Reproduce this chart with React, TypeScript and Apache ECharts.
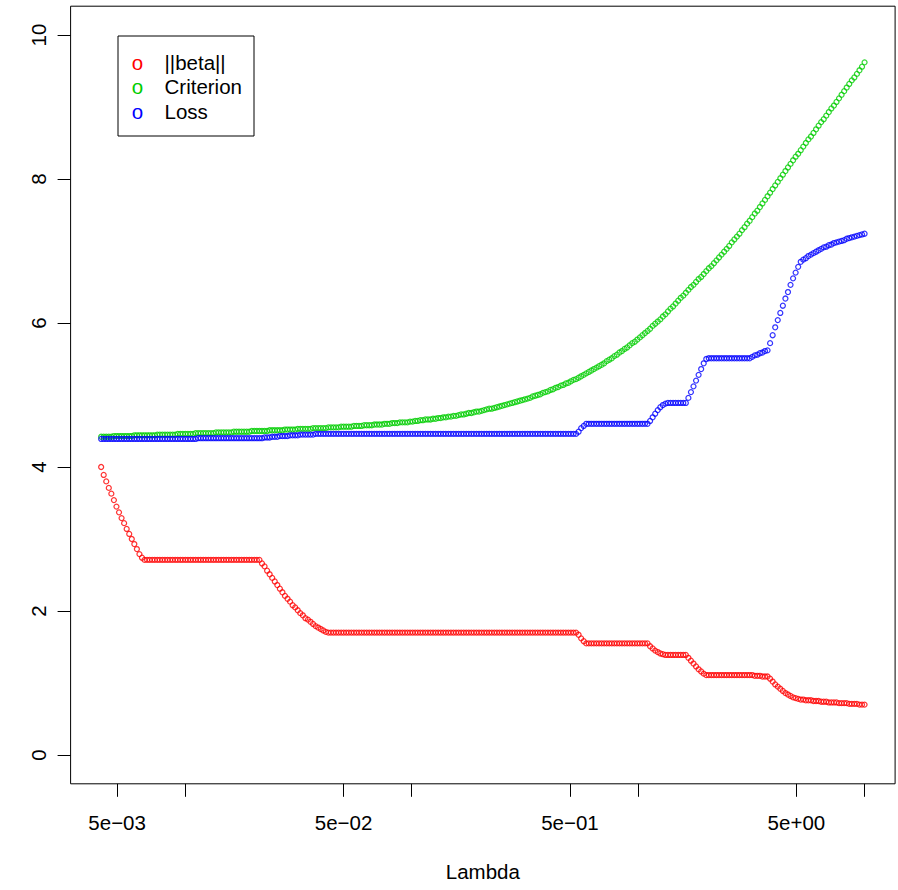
import React, { useEffect, useRef } from "react";
import * as echarts from "echarts";

// Regularisation path: 300 log-spaced lambda values
const N_POINTS = 300;
const LAMBDA_MIN = 0.00425;
const LAMBDA_MAX = 10;

// Axis ticks (R style: labels only where they do not collide)
const X_TICKS = [0.005, 0.01, 0.05, 0.1, 0.5, 1, 5, 10];
const X_LABELS = [0.005, 0.05, 0.5, 5];
const Y_TICKS = [0, 2, 4, 6, 8, 10];
const Y_LIM = [0, 10];

// ||beta|| along the path (increasing lambda)
const BETA_NORM = [
  4.00, 3.89, 3.80, 3.71, 3.63, 3.54, 3.45, 3.37, 3.29, 3.22,
  3.14, 3.07, 3.00, 2.93, 2.86, 2.79, 2.74, 2.71,
  2.71, 2.71, 2.71, 2.71, 2.71, 2.71, 2.71, 2.71, 2.71, 2.71, 2.71, 2.71, 2.71, 2.71, 2.71,
  2.71, 2.71, 2.71, 2.71, 2.71, 2.71, 2.71, 2.71, 2.71, 2.71, 2.71, 2.71, 2.71, 2.71, 2.71,
  2.71, 2.71, 2.71, 2.71, 2.71, 2.71, 2.71, 2.71, 2.71, 2.71, 2.71, 2.71, 2.71, 2.71, 2.71,
  2.66, 2.62, 2.56, 2.51, 2.46, 2.41, 2.36, 2.31, 2.26, 2.21, 2.17, 2.13, 2.08,
  2.05, 2.01, 1.97, 1.94, 1.90, 1.88, 1.85, 1.82, 1.79, 1.77, 1.75, 1.73, 1.71,
  1.70, 1.70, 1.70, 1.70, 1.70, 1.70, 1.70, 1.70, 1.70, 1.70, 1.70, 1.70, 1.70, 1.70, 1.70,
  1.70, 1.70, 1.70, 1.70, 1.70, 1.70, 1.70, 1.70, 1.70, 1.70, 1.70, 1.70, 1.70, 1.70, 1.70,
  1.70, 1.70, 1.70, 1.70, 1.70, 1.70, 1.70, 1.70, 1.70, 1.70, 1.70, 1.70, 1.70, 1.70, 1.70,
  1.70, 1.70, 1.70, 1.70, 1.70, 1.70, 1.70, 1.70, 1.70, 1.70, 1.70, 1.70, 1.70, 1.70, 1.70,
  1.70, 1.70, 1.70, 1.70, 1.70, 1.70, 1.70, 1.70, 1.70, 1.70, 1.70, 1.70, 1.70, 1.70, 1.70,
  1.70, 1.70, 1.70, 1.70, 1.70, 1.70, 1.70, 1.70, 1.70, 1.70, 1.70, 1.70, 1.70, 1.70, 1.70,
  1.70, 1.70, 1.70, 1.70, 1.70, 1.70, 1.70, 1.70,
  1.67, 1.62, 1.58,
  1.55, 1.55, 1.55, 1.55, 1.55, 1.55, 1.55, 1.55, 1.55, 1.55, 1.55, 1.55, 1.55, 1.55, 1.55,
  1.55, 1.55, 1.55, 1.55, 1.55, 1.55, 1.55, 1.55, 1.55, 1.55,
  1.51, 1.48, 1.45, 1.43, 1.41, 1.40, 1.39,
  1.39, 1.39, 1.39, 1.39, 1.39, 1.39, 1.39, 1.39,
  1.35, 1.31, 1.27, 1.23, 1.19, 1.16, 1.13, 1.11,
  1.11, 1.11, 1.11, 1.11, 1.11, 1.11, 1.11, 1.11, 1.11, 1.11, 1.11, 1.11, 1.11, 1.11, 1.11,
  1.11, 1.11,
  1.11, 1.10, 1.10, 1.10, 1.09, 1.09, 1.09,
  1.06, 1.02, 0.98, 0.95, 0.92, 0.89, 0.86, 0.84, 0.82, 0.80, 0.79, 0.78, 0.77,
  0.77, 0.76, 0.76, 0.76, 0.75, 0.75, 0.75, 0.74, 0.74, 0.74, 0.73, 0.73, 0.73,
  0.73, 0.72, 0.72, 0.72, 0.72, 0.71, 0.71, 0.71, 0.71, 0.70, 0.70, 0.70,
];

// Penalised criterion along the path
const CRITERION = [
  4.42, 4.42, 4.42, 4.42, 4.42, 4.43, 4.43, 4.43, 4.43, 4.43,
  4.43, 4.43, 4.43, 4.44, 4.44, 4.44, 4.44, 4.44, 4.44, 4.44,
  4.44, 4.44, 4.45, 4.45, 4.45, 4.45, 4.45, 4.45, 4.45, 4.45,
  4.46, 4.46, 4.46, 4.46, 4.46, 4.46, 4.46, 4.47, 4.47, 4.47,
  4.47, 4.47, 4.47, 4.47, 4.47, 4.48, 4.48, 4.48, 4.48, 4.48,
  4.48, 4.48, 4.49, 4.49, 4.49, 4.49, 4.49, 4.49, 4.49, 4.50,
  4.50, 4.50, 4.50, 4.50, 4.50, 4.50, 4.51, 4.51, 4.51, 4.51,
  4.51, 4.51, 4.52, 4.52, 4.52, 4.52, 4.52, 4.53, 4.53, 4.53,
  4.53, 4.53, 4.53, 4.54, 4.54, 4.54, 4.54, 4.54, 4.54, 4.55,
  4.55, 4.55, 4.55, 4.55, 4.56, 4.56, 4.56, 4.56, 4.56, 4.57,
  4.57, 4.57, 4.57, 4.58, 4.58, 4.58, 4.58, 4.59, 4.59, 4.59,
  4.59, 4.60, 4.60, 4.60, 4.61, 4.61, 4.61, 4.62, 4.62, 4.62,
  4.62, 4.63, 4.63, 4.64, 4.64, 4.65, 4.65, 4.66, 4.66, 4.66,
  4.67, 4.67, 4.68, 4.68, 4.69, 4.69, 4.70, 4.70, 4.71, 4.71,
  4.72, 4.73, 4.73, 4.74, 4.75, 4.75, 4.76, 4.77, 4.77, 4.78,
  4.79, 4.80, 4.81, 4.81, 4.82, 4.83, 4.84, 4.85, 4.86, 4.87,
  4.88, 4.89, 4.90, 4.91, 4.92, 4.93, 4.94, 4.95, 4.96, 4.98,
  4.99, 5.00, 5.01, 5.03, 5.04, 5.05, 5.07, 5.08, 5.10, 5.11,
  5.13, 5.14, 5.16, 5.17, 5.19, 5.21, 5.22, 5.24, 5.26, 5.28,
  5.30, 5.32, 5.34, 5.36, 5.38, 5.40, 5.42, 5.44, 5.47, 5.49,
  5.51, 5.54, 5.56, 5.59, 5.61, 5.64, 5.66, 5.69, 5.72, 5.74,
  5.77, 5.80, 5.83, 5.86, 5.89, 5.92, 5.96, 5.99, 6.02, 6.05,
  6.09, 6.12, 6.16, 6.20, 6.23, 6.27, 6.31, 6.35, 6.38, 6.42,
  6.46, 6.50, 6.53, 6.57, 6.61, 6.64, 6.68, 6.72, 6.76, 6.79,
  6.83, 6.87, 6.91, 6.95, 6.99, 7.03, 7.07, 7.12, 7.16, 7.20,
  7.24, 7.29, 7.33, 7.38, 7.42, 7.47, 7.52, 7.56, 7.61, 7.66,
  7.71, 7.76, 7.81, 7.86, 7.91, 7.96, 8.01, 8.06, 8.11, 8.16,
  8.21, 8.26, 8.31, 8.35, 8.40, 8.45, 8.50, 8.55, 8.59, 8.64,
  8.69, 8.74, 8.79, 8.83, 8.88, 8.93, 8.98, 9.02, 9.07, 9.12,
  9.17, 9.22, 9.27, 9.32, 9.37, 9.41, 9.46, 9.51, 9.56, 9.62,
];

// Loss along the path
const LOSS = [
  4.39, 4.39, 4.39, 4.39, 4.39, 4.39, 4.39, 4.39, 4.39, 4.39,
  4.39, 4.39, 4.39, 4.39, 4.39, 4.39, 4.39, 4.39,
  4.39, 4.39, 4.39, 4.39, 4.39, 4.39, 4.39, 4.39, 4.39, 4.39,
  4.39, 4.39, 4.39, 4.39, 4.39, 4.39, 4.39, 4.39, 4.39, 4.39,
  4.40, 4.40, 4.40, 4.40, 4.40, 4.40, 4.40, 4.40, 4.40, 4.40, 4.40, 4.40, 4.40,
  4.40, 4.40, 4.40, 4.40, 4.40, 4.40, 4.40, 4.40, 4.40, 4.40, 4.40, 4.40,
  4.40, 4.41, 4.41, 4.41, 4.42, 4.42, 4.42, 4.43, 4.43, 4.43, 4.43, 4.44, 4.44,
  4.44, 4.44, 4.45, 4.45, 4.45, 4.45, 4.45, 4.45, 4.46, 4.46, 4.46, 4.46, 4.46,
  4.46, 4.46, 4.46, 4.46, 4.46, 4.46, 4.46, 4.46, 4.46, 4.46, 4.46, 4.46, 4.46, 4.46, 4.46,
  4.46, 4.46, 4.46, 4.46, 4.46, 4.46, 4.46, 4.46, 4.46, 4.46, 4.46, 4.46, 4.46, 4.46, 4.46,
  4.46, 4.46, 4.46, 4.46, 4.46, 4.46, 4.46, 4.46, 4.46, 4.46, 4.46, 4.46, 4.46, 4.46, 4.46,
  4.46, 4.46, 4.46, 4.46, 4.46, 4.46, 4.46, 4.46, 4.46, 4.46, 4.46, 4.46, 4.46, 4.46, 4.46,
  4.46, 4.46, 4.46, 4.46, 4.46, 4.46, 4.46, 4.46, 4.46, 4.46, 4.46, 4.46, 4.46, 4.46, 4.46,
  4.46, 4.46, 4.46, 4.46, 4.46, 4.46, 4.46, 4.46, 4.46, 4.46, 4.46, 4.46, 4.46, 4.46, 4.46,
  4.46, 4.46, 4.46, 4.46, 4.46, 4.46, 4.46, 4.46,
  4.49, 4.54, 4.57,
  4.60, 4.60, 4.60, 4.60, 4.60, 4.60, 4.60, 4.60, 4.60, 4.60, 4.60, 4.60, 4.60, 4.60, 4.60,
  4.60, 4.60, 4.60, 4.60, 4.60, 4.60, 4.60, 4.60, 4.60, 4.60,
  4.64, 4.69, 4.74, 4.79, 4.83, 4.86, 4.88,
  4.89, 4.89, 4.89, 4.89, 4.89, 4.89, 4.89, 4.89,
  4.96, 5.04, 5.12, 5.20, 5.28, 5.36, 5.44, 5.50,
  5.51, 5.51, 5.51, 5.51, 5.51, 5.51, 5.51, 5.51, 5.51, 5.51, 5.51, 5.51, 5.51, 5.51, 5.51,
  5.51, 5.51,
  5.53, 5.55, 5.56, 5.58, 5.59, 5.61, 5.62,
  5.72, 5.83, 5.94, 6.04, 6.14, 6.24, 6.34, 6.43, 6.53, 6.62, 6.70, 6.78, 6.85,
  6.88, 6.90, 6.93, 6.95, 6.97, 6.99, 7.01, 7.03, 7.05, 7.06, 7.08, 7.09, 7.11,
  7.12, 7.13, 7.14, 7.15, 7.17, 7.18, 7.19, 7.20, 7.21, 7.22, 7.23, 7.24,
];

const SERIES_NAMES = ["||beta||", "Criterion", "Loss"];
const SERIES_COLORS = ["#FF0000", "#00CD00", "#0000FF"];
const SERIES_VALUES = [BETA_NORM, CRITERION, LOSS];

const FONT = "'Liberation Sans', Arial, Helvetica, sans-serif";
const FONT_SIZE = 20.5;

const lambdas = Array.from(
  { length: N_POINTS },
  (_, i) => LAMBDA_MIN * Math.pow(LAMBDA_MAX / LAMBDA_MIN, i / (N_POINTS - 1))
);

// R-like scientific label, e.g. 5e-03, 5e+00
function sciLabel(logValue: number): string {
  const lam = Math.pow(10, logValue);
  const e = Math.floor(Math.log10(lam) + 1e-9);
  const m = Math.round(lam / Math.pow(10, e));
  const sign = e < 0 ? "\u2212" : "+";
  return `${m}e${sign}${String(Math.abs(e)).padStart(2, "0")}`;
}

export default function App() {
  const ref = useRef<HTMLDivElement>(null);

  useEffect(() => {
    if (!ref.current) return;
    const chart = echarts.init(ref.current, undefined, { renderer: "svg" });

    // R extends each axis range by 4% on both sides
    const lx0 = Math.log10(LAMBDA_MIN);
    const lx1 = Math.log10(LAMBDA_MAX);
    const padX = (lx1 - lx0) * 0.04;
    const padY = (Y_LIM[1] - Y_LIM[0]) * 0.04;

    const legendRows = SERIES_NAMES.map((name, k) => ({
      y: 62 + k * 24.5,
      name,
      color: SERIES_COLORS[k],
    }));

    chart.setOption({
      animation: false,
      backgroundColor: "#ffffff",
      grid: {
        left: 70.6,
        top: 6.2,
        width: 824.5,
        height: 777.6,
        show: true,
        borderColor: "#000000",
        borderWidth: 1,
        backgroundColor: "transparent",
      },
      xAxis: {
        type: "value",
        min: lx0 - padX,
        max: lx1 + padX,
        name: "Lambda",
        nameLocation: "middle",
        nameGap: 77,
        nameTextStyle: { color: "#000", fontFamily: FONT, fontSize: FONT_SIZE },
        axisLine: { show: false, onZero: false },
        splitLine: { show: false },
        axisTick: {
          show: true,
          length: 13,
          inside: false,
          lineStyle: { color: "#000", width: 1 },
          customValues: X_TICKS.map((v) => Math.log10(v)),
        },
        axisLabel: {
          show: true,
          margin: 28,
          color: "#000",
          fontFamily: FONT,
          fontSize: FONT_SIZE,
          customValues: X_LABELS.map((v) => Math.log10(v)),
          formatter: (v: number) => sciLabel(v),
        },
      },
      yAxis: {
        type: "value",
        min: Y_LIM[0] - padY,
        max: Y_LIM[1] + padY,
        axisLine: { show: false, onZero: false },
        splitLine: { show: false },
        axisTick: {
          show: true,
          length: 13,
          inside: false,
          lineStyle: { color: "#000", width: 1 },
          customValues: Y_TICKS,
        },
        axisLabel: {
          show: true,
          rotate: 90,
          margin: 22,
          color: "#000",
          fontFamily: FONT,
          fontSize: FONT_SIZE,
          customValues: Y_TICKS,
          formatter: (v: number) => String(Math.round(v)),
        },
      },
      series: SERIES_VALUES.map((vals, k) => ({
        type: "scatter",
        name: SERIES_NAMES[k],
        data: vals.map((v, i) => [Math.log10(lambdas[i]), v]),
        symbol: "circle",
        symbolSize: 5,
        itemStyle: {
          color: "rgba(0,0,0,0)",
          borderColor: SERIES_COLORS[k],
          borderWidth: 1.25,
        },
        emphasis: { disabled: true },
        silent: true,
        z: 2 + k,
      })),
      graphic: [
        {
          type: "rect",
          shape: { x: 118, y: 36, width: 136, height: 100 },
          style: { fill: "#ffffff", stroke: "#000000", lineWidth: 1 },
          z: 10,
          silent: true,
        },
        ...legendRows.flatMap((row) => [
          {
            type: "text",
            x: 137.5,
            y: row.y,
            style: {
              text: "o",
              fill: row.color,
              font: `${FONT_SIZE}px ${FONT}`,
              textAlign: "center",
              textVerticalAlign: "middle",
            },
            z: 11,
            silent: true,
          },
          {
            type: "text",
            x: 164.5,
            y: row.y,
            style: {
              text: row.name,
              fill: "#000000",
              font: `${FONT_SIZE}px ${FONT}`,
              textAlign: "left",
              textVerticalAlign: "middle",
            },
            z: 11,
            silent: true,
          },
        ]),
      ],
    });

    return () => chart.dispose();
  }, []);

  return (
    <div
      ref={ref}
      style={{ position: "fixed", left: 0, top: 0, width: 898, height: 890 }}
    />
  );
}
